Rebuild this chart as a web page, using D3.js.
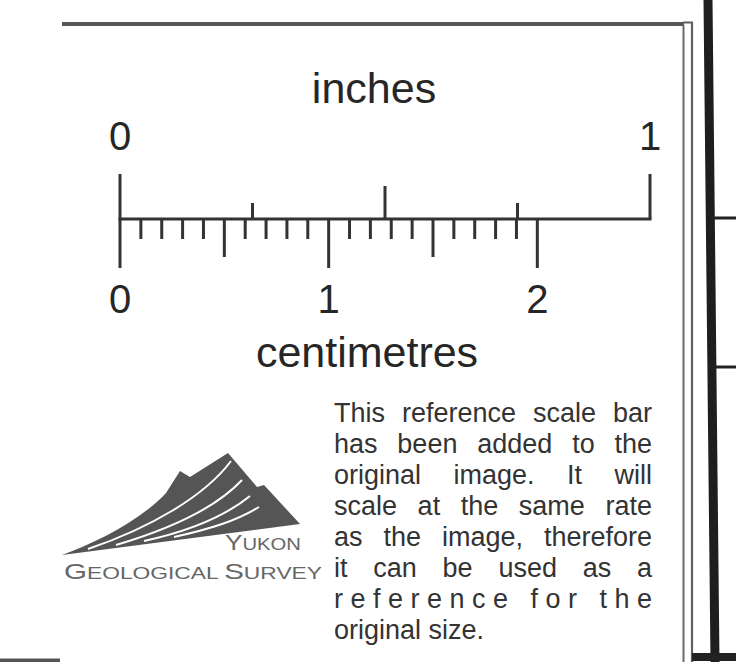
<!DOCTYPE html>
<html>
<head>
<meta charset="utf-8">
<script src="https://cdn.jsdelivr.net/npm/d3@7"></script>
<style>
  html, body { margin: 0; padding: 0; background: #fff; }
  svg { display: block; font-family: "Liberation Sans", Arial, sans-serif; }
</style>
</head>
<body>
<div id="chart"></div>
<script>
// scale bar data
const inchTicks = [0, 0.25, 0.5, 0.75, 1];
const inchTickType = ['end', 'quarter', 'half', 'quarter', 'end'];
const inchLabels = [0, 1];
const mmTicks = [0, 1, 2, 3, 4, 5, 6, 7, 8, 9, 10, 11, 12, 13, 14, 15, 16, 17, 18, 19, 20];
const cmLabels = [0, 1, 2];
const noteLines = [
  'This reference scale bar',
  'has been added to the',
  'original image. It will',
  'scale at the same rate',
  'as the image, therefore',
  'it can be used as a',
  'reference for the',
  'original size.'
];
// how each line is justified in the original
const noteJustify = ['word', 'word', 'word', 'word', 'word', 'word', 'letter', 'none'];

const W = 736, H = 662;
const svg = d3.select('#chart').append('svg').attr('width', W).attr('height', H);

//*********
// frame around the box
const frame = svg.append('g').attr('fill', 'none');
frame.append('path').attr('d', 'M62,24H684').attr('stroke', '#575757').attr('stroke-width', 4);
frame.append('path').attr('d', 'M683,22.5H692V662').attr('stroke', '#5f5f5f').attr('stroke-width', 2.2);
frame.append('path').attr('d', 'M683.5,25V662').attr('stroke', '#6a6a6a').attr('stroke-width', 2);
// neighbour map edge on the right
frame.append('path').attr('d', 'M708,0L715,662').attr('stroke', '#1e1e1e').attr('stroke-width', 9);
frame.append('path').attr('d', 'M711,218H736M712,367H736').attr('stroke', '#222').attr('stroke-width', 3);
frame.append('path').attr('d', 'M692,657H736').attr('stroke', '#222').attr('stroke-width', 8);
frame.append('path').attr('d', 'M0,660.5H60').attr('stroke', '#555').attr('stroke-width', 4);

//*********
// ruler
const x0 = 120, x1 = 650, lineY = 219;
const inch = d3.scaleLinear().domain([0, 1]).range([x0, x1]);
const mm = d3.scaleLinear().domain([0, 25.4]).range([x0, x1]);

const ruler = svg.append('g').attr('stroke', '#333').attr('stroke-width', 3).attr('stroke-linecap', 'butt');

ruler.append('line')
  .attr('x1', inch(0) - 1.5).attr('x2', inch(1) + 1.5)
  .attr('y1', lineY).attr('y2', lineY);

const upLen = { end: 45, half: 33, quarter: 16 };
ruler.selectAll('line.in')
  .data(inchTicks)
  .enter().append('line')
  .attr('class', 'in')
  .attr('x1', (d) => inch(d)).attr('x2', (d) => inch(d))
  .attr('y1', lineY)
  .attr('y2', (d, i) => lineY - upLen[inchTickType[i]]);

ruler.selectAll('line.mm')
  .data(mmTicks)
  .enter().append('line')
  .attr('class', 'mm')
  .attr('x1', (d) => mm(d)).attr('x2', (d) => mm(d))
  .attr('y1', lineY)
  .attr('y2', (d) => lineY + (d % 10 === 0 ? 49 : (d % 5 === 0 ? 38 : 20)));

const labels = svg.append('g').attr('fill', '#262626').attr('text-anchor', 'middle');

labels.append('text').attr('x', 374).attr('y', 103).attr('font-size', 43).text('inches');
labels.selectAll('text.inl')
  .data(inchLabels)
  .enter().append('text')
  .attr('class', 'inl')
  .attr('x', (d) => inch(d)).attr('y', 150)
  .attr('font-size', 40)
  .text((d) => d);

labels.selectAll('text.cml')
  .data(cmLabels)
  .enter().append('text')
  .attr('class', 'cml')
  .attr('x', (d) => mm(d * 10)).attr('y', 313)
  .attr('font-size', 40)
  .text((d) => d);
labels.append('text').attr('x', 367).attr('y', 367).attr('font-size', 43).text('centimetres');

//*********
// note text, justified between left and right edge
const noteX = 334, noteRight = 652, noteY = 422, noteStep = 31;
const note = svg.append('g').attr('fill', '#333').attr('font-size', 27);

note.selectAll('text')
  .data(noteLines)
  .enter().append('text')
  .attr('x', noteX)
  .attr('y', (d, i) => noteY + i * noteStep)
  .text((d) => d)
  .each(function (d, i) {
    let w = this.getComputedTextLength();
    let target = noteRight - noteX;
    if (noteJustify[i] === 'word') {
      let gaps = d.split(' ').length - 1;
      d3.select(this).attr('word-spacing', (target - w) / gaps);
    } else if (noteJustify[i] === 'letter') {
      d3.select(this).attr('textLength', target).attr('lengthAdjust', 'spacing');
    }
  });

//*********
// Yukon Geological Survey logo
const logo = svg.append('g');
logo.append('path')
  .attr('d', 'M62,555 C95,543 140,521 166,493 L180,471 L190,477 L228,453 L257,487 L264,485 L300,524 Z')
  .attr('fill', '#555');
const streaks = [
  'M88,549 C150,528 205,496 231,461',
  'M116,545 C170,529 215,509 242,480',
  'M144,541 C190,531 224,517 250,496',
  'M174,537 C210,529 236,521 259,507'
];
logo.selectAll('path.streak')
  .data(streaks)
  .enter().append('path')
  .attr('class', 'streak')
  .attr('d', (d) => d)
  .attr('fill', 'none').attr('stroke', '#fff').attr('stroke-width', 2);

const logoText = logo.append('g').attr('fill', '#666');
let yk = logoText.append('text').attr('x', 225).attr('y', 550)
  .attr('textLength', 76).attr('lengthAdjust', 'spacingAndGlyphs');
yk.append('tspan').attr('font-size', 22).text('Y');
yk.append('tspan').attr('font-size', 17).text('UKON');
let gs = logoText.append('text').attr('x', 64).attr('y', 579)
  .attr('textLength', 258).attr('lengthAdjust', 'spacingAndGlyphs');
gs.append('tspan').attr('font-size', 22).text('G');
gs.append('tspan').attr('font-size', 17).text('EOLOGICAL ');
gs.append('tspan').attr('font-size', 22).text('S');
gs.append('tspan').attr('font-size', 17).text('URVEY');
</script>
</body>
</html>
